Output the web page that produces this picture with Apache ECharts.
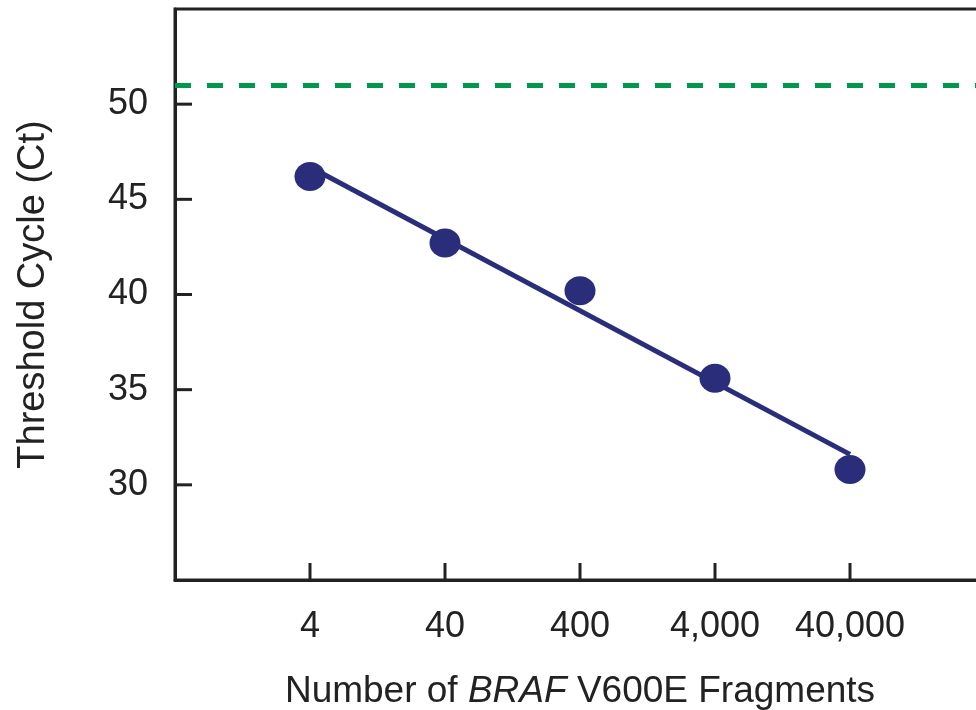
<!DOCTYPE html>
<html>
<head>
<meta charset="utf-8">
<title>Threshold Cycle vs BRAF V600E Fragments</title>
<script src="https://cdn.jsdelivr.net/npm/echarts@6/dist/echarts.min.js"></script>
<style>
  html, body { margin: 0; padding: 0; background: #ffffff; }
  #chart { width: 976px; height: 710px; }
</style>
</head>
<body>
<div id="chart"></div>
<script>
// Number of BRAF V600E fragments per reaction (log scale)
const fragments = [4, 40, 400, 4000, 40000];
// Measured threshold cycle for each dilution
const ctValues = [46.2, 42.7, 40.2, 35.6, 30.8];
// Fitted standard curve, drawn between the first and last dilution
const fitX = [4, 40000];
const fitY = [46.7, 31.6];
// Cut-off cycle shown as a dashed reference line
const cutoffCt = 51;
// Tick positions
const xTickValues = [4, 40, 400, 4000, 40000];
const yTickValues = [30, 35, 40, 45, 50];

const navy = '#2a2e7a';
const ink = '#222222';
const font = 'Liberation Sans, Arial, Helvetica, sans-serif';
const X_MIN = 0.4, X_MAX = 400000, Y_MIN = 25, Y_MAX = 55;
const TICK_LEN = 17;

const chart = echarts.init(document.getElementById('chart'), null, { renderer: 'canvas' });

// Inward-pointing tick marks, positioned through the axis scales
function tickRenderer(dir) {
  return function (params, api) {
    const p = api.coord([api.value(0), api.value(1)]);
    const end = dir === 'x' ? [p[0], p[1] - TICK_LEN] : [p[0] + TICK_LEN, p[1]];
    return {
      type: 'line',
      shape: { x1: p[0], y1: p[1], x2: end[0], y2: end[1] },
      style: { stroke: ink, lineWidth: 3 }
    };
  };
}

chart.setOption({
  animation: false,
  backgroundColor: '#ffffff',
  grid: {
    left: 175,
    top: 9,
    right: -9,
    bottom: 130,
    outerBoundsMode: 'none',
    containLabel: false,
    show: true,
    borderColor: ink,
    borderWidth: 3,
    backgroundColor: 'transparent'
  },
  xAxis: {
    type: 'log',
    logBase: 10,
    min: X_MIN,
    max: X_MAX,
    name: '{n|Number of }{i|BRAF}{n| V600E Fragments}',
    nameLocation: 'middle',
    nameGap: 93,
    nameTextStyle: {
      rich: {
        n: { fontFamily: font, fontSize: 37, color: ink },
        i: { fontFamily: font, fontSize: 37, color: ink, fontStyle: 'italic' }
      }
    },
    axisLine: { show: true, lineStyle: { color: ink, width: 3 } },
    axisTick: { show: false },
    axisLabel: {
      show: true,
      margin: 29,
      color: ink,
      fontFamily: font,
      fontSize: 36,
      customValues: xTickValues,
      formatter: v => Math.round(v).toLocaleString('en-US')
    },
    splitLine: { show: false },
    minorTick: { show: false }
  },
  yAxis: {
    type: 'value',
    min: Y_MIN,
    max: Y_MAX,
    interval: 5,
    name: 'Threshold Cycle (Ct)',
    nameLocation: 'middle',
    nameGap: 122,
    nameRotate: 90,
    nameTextStyle: { fontFamily: font, fontSize: 38, color: ink },
    axisLine: { show: true, lineStyle: { color: ink, width: 3 } },
    axisTick: { show: false },
    axisLabel: {
      show: true,
      margin: 27,
      color: ink,
      fontFamily: font,
      fontSize: 36,
      showMinLabel: false,
      showMaxLabel: false
    },
    splitLine: { show: false }
  },
  series: [
    {
      name: 'Cut-off',
      type: 'line',
      data: [],
      markLine: {
        silent: true,
        symbol: 'none',
        label: { show: false },
        lineStyle: { color: '#00994c', width: 5, type: [16, 16] },
        data: [{ yAxis: cutoffCt }]
      }
    },
    {
      name: 'x ticks',
      type: 'custom',
      silent: true,
      clip: false,
      data: xTickValues.map(v => [v, Y_MIN]),
      renderItem: tickRenderer('x'),
      z: 5
    },
    {
      name: 'y ticks',
      type: 'custom',
      silent: true,
      clip: false,
      data: yTickValues.map(v => [X_MIN, v]),
      renderItem: tickRenderer('y'),
      z: 5
    },
    {
      name: 'Fit',
      type: 'line',
      data: fitX.map((x, i) => [x, fitY[i]]),
      symbol: 'none',
      lineStyle: { color: navy, width: 5 },
      z: 3
    },
    {
      name: 'Ct',
      type: 'scatter',
      data: fragments.map((x, i) => [x, ctValues[i]]),
      symbol: 'circle',
      symbolSize: [31, 29],
      itemStyle: { color: navy, opacity: 1 },
      z: 4
    }
  ]
});
</script>
</body>
</html>
